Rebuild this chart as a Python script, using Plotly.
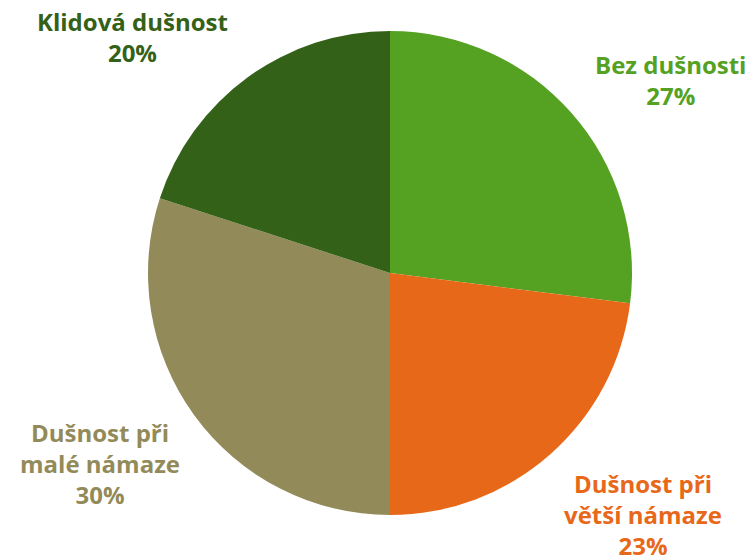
import plotly.graph_objects as go

labels = ["Bez dušnosti", "Dušnost při<br>větší námaze", "Dušnost při<br>malé námaze", "Klidová dušnost"]
values = [27, 23, 30, 20]
colors = ["#55A122", "#E8681A", "#938A59", "#336117"]

# page body adds an 8px offset; figure coordinates are relative to it
OFF = 8
W, H = 753 - OFF, 555 - OFF
# label anchor positions (pixels in window, centre of text block)
label_pos = [(670, 80), (643, 514), (100, 463), (132, 37)]

cx, cy, r = 390 - OFF, 273 - OFF, 242

fig = go.Figure(go.Pie(
    labels=labels, values=values, sort=False, direction="clockwise", rotation=0,
    marker=dict(colors=colors, line=dict(width=0)),
    textinfo="none", hoverinfo="label+percent",
    domain=dict(x=[(cx - r) / W, (cx + r) / W], y=[1 - (cy + r) / H, 1 - (cy - r) / H]),
    showlegend=False,
))

for lab, val, col, (px, py) in zip(labels, values, colors, label_pos):
    fig.add_annotation(
        x=(px - OFF) / W, y=1 - (py - OFF) / H, xref="paper", yref="paper",
        text=f"<b>{lab}<br>{val}%</b>", showarrow=False,
        font=dict(family="Open Sans", size=24, color=col),
        align="center", xanchor="center", yanchor="middle",
    )

fig.update_layout(width=W, height=H, margin=dict(l=0, r=0, t=0, b=0),
                  paper_bgcolor="white", plot_bgcolor="white")
fig.write_html("out.html")
